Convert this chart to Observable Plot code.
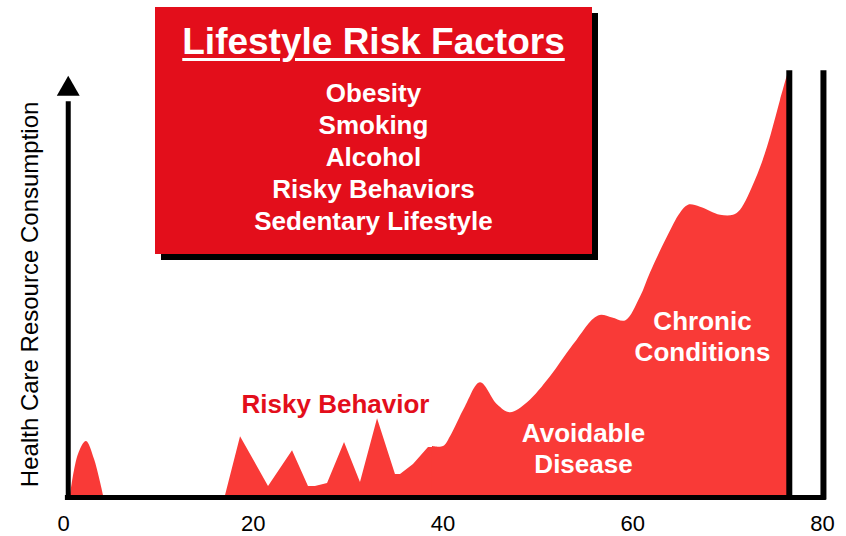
<!DOCTYPE html>
<html>
<head>
<meta charset="utf-8">
<script src="https://cdn.jsdelivr.net/npm/d3@7"></script>
<script src="https://cdn.jsdelivr.net/npm/@observablehq/plot@0.6"></script>
<style>
  body { margin: 0; background: #fff; }
  #wrap { position: relative; width: 846px; height: 536px; font-family: "Liberation Sans", Arial, sans-serif; }
  #box { position: absolute; left: 155px; top: 7px; width: 437px; height: 247px; background: #E30E1B; box-shadow: 6px 6px 0 #000; color: #fff; font-weight: bold; text-align: center; }
  #box .title { position: absolute; left: 0; right: 0; top: 15px; font-size: 37px; line-height: 40px; text-decoration: underline; text-decoration-thickness: 3px; text-underline-offset: 4px; }
  #box .list { position: absolute; left: 0; right: 0; top: 70px; font-size: 26px; line-height: 32px; }
</style>
</head>
<body>
<div id="wrap"></div>
<script>
// ---- data ----
const tickAges = [0, 20, 40, 60, 80];

// childhood bump (smooth)
const childAges = [0.74, 1.58, 2.42, 3.27, 4.22];
const childVals = [0, 9.76, 12.86, 8.57, 0];

// risky behavior years (jagged)
const riskyAges = [17.08, 18.66, 21.61, 24.14, 25.82, 26.56, 27.83, 29.62, 31.30, 33.10, 34.99, 35.52, 36.89, 38.47, 39.74];
const riskyVals = [0, 14.05, 2.14, 10.71, 2.14, 2.14, 2.86, 12.62, 3.10, 18.33, 5.0, 5.0, 7.38, 11.43, 11.43];

// avoidable disease & chronic conditions (smooth)
const chronicAges = [38.89, 40.05, 40.79, 42.37, 43.95, 45.74, 47.11, 48.91, 51.33, 53.76, 56.39, 57.87, 59.24, 60.82, 61.87, 63.66, 65.03, 65.88, 67.14, 69.25, 70.62, 71.36, 72.94, 74.20, 75.57, 76.31];
const chronicVals = [11.67, 11.67, 14.05, 21.19, 26.90, 21.67, 19.76, 22.14, 28.33, 35.95, 42.86, 42.38, 41.67, 47.38, 53.10, 61.67, 67.38, 69.29, 68.81, 66.90, 66.90, 68.10, 75.24, 83.10, 94.29, 100.24];

// annotations
const whiteLabels = ["Avoidable", "Disease", "Chronic", "Conditions"];
const whiteAges = [54.81, 54.81, 67.35, 67.35];
const whiteVals = [14.83, 7.45, 41.6, 34.0];
const redLabels = ["Risky Behavior"];
const redAges = [28.67];
const redVals = [21.74];

const yAxisLabel = "Health Care Resource Consumption";
const boxTitle = "Lifestyle Risk Factors";
const boxItems = ["Obesity", "Smoking", "Alcohol", "Risky Behaviors", "Sedentary Lifestyle"];

// end-of-life bars
const barAges = [76.5, 80.1];

// ---- build ----
const zip = (xs, ys) => xs.map((x, i) => ({x, y: ys[i]}));
const child = zip(childAges, childVals);
const risky = zip(riskyAges, riskyVals);
const chronic = zip(chronicAges, chronicVals);
const whites = whiteLabels.map((t, i) => ({t, x: whiteAges[i], y: whiteVals[i]}));
const reds = redLabels.map((t, i) => ({t, x: redAges[i], y: redVals[i]}));

const AREA = "#F93A37";
const RED = "#E30E1B";

const chart = Plot.plot({
  width: 846,
  height: 536,
  marginLeft: 63,
  marginRight: 24,
  marginTop: 76,
  marginBottom: 41,
  x: {domain: [0, 80]},
  y: {domain: [0, 100], axis: null},
  style: {fontFamily: "'Liberation Sans', Arial, sans-serif", background: "#fff", overflow: "visible"},
  marks: [
    Plot.areaY(child, {x: "x", y: "y", curve: "catmull-rom", fill: AREA}),
    Plot.areaY(risky, {x: "x", y: "y", curve: "linear", fill: AREA}),
    Plot.areaY(chronic, {x: "x", y: "y", curve: "catmull-rom", fill: AREA}),
    Plot.text(whites, {x: "x", y: "y", text: "t", fill: "#fff", fontSize: 26, fontWeight: "bold"}),
    Plot.text(reds, {x: "x", y: "y", text: "t", fill: RED, fontSize: 26, fontWeight: "bold"}),
    // y axis with arrow
    Plot.ruleX([0.5], {y1: -1.1, y2: 94, stroke: "#000", strokeWidth: 5}),
    Plot.dot([0.5], {x: d => d, y: () => 97.0, symbol: "triangle", r: 8.5, fill: "#000", stroke: "none"}),
    // x axis line
    Plot.ruleY([-0.5], {x1: 0.2, x2: 80.4, stroke: "#000", strokeWidth: 5}),
    // vertical end bars
    Plot.ruleX(barAges, {y1: -1.1, y2: 101.4, stroke: "#000", strokeWidth: 6}),
    Plot.axisX({ticks: tickAges, tickSize: 0, tickPadding: 20, fontSize: 22, label: null, tickFormat: d => String(d), fill: "#000"}),
    Plot.text([yAxisLabel], {x: () => -3.5, y: () => 48, text: d => d, rotate: -90, fontSize: 24, fill: "#000"})
  ]
});

const wrap = document.getElementById("wrap");
wrap.appendChild(chart);

const box = document.createElement("div");
box.id = "box";
const title = document.createElement("div");
title.className = "title";
title.textContent = boxTitle;
const list = document.createElement("div");
list.className = "list";
boxItems.forEach(s => { const d = document.createElement("div"); d.textContent = s; list.appendChild(d); });
box.appendChild(title);
box.appendChild(list);
wrap.appendChild(box);
</script>
</body>
</html>
